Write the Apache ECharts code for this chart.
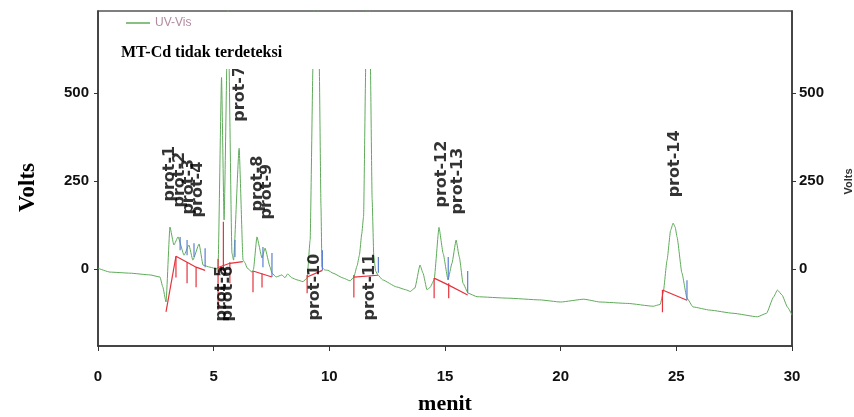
<!DOCTYPE html>
<html><head><meta charset="utf-8">
<script src="https://cdn.jsdelivr.net/npm/echarts@6/dist/echarts.min.js"></script>
<style>html,body{margin:0;padding:0;background:#fff}#c{width:854px;height:417px}</style>
</head><body><div id="c"></div>
<script>
// UV-Vis trace (minutes, volts)
const time = [0,0.52,1.38,2.25,2.68,2.8,2.94,3.11,3.28,3.46,3.72,3.93,4.1,4.37,4.54,4.84,5.14,5.19,5.34,5.45,5.62,5.79,5.86,6.1,6.27,6.36,6.44,6.66,6.72,6.87,7.09,7.22,7.44,7.52,7.7,7.95,8.08,8.2,8.37,8.6,8.86,9.04,9.17,9.3,9.42,9.56,9.64,9.68,9.8,9.94,10.16,10.6,10.9,11.06,11.2,11.3,11.4,11.48,11.58,11.67,11.77,11.85,11.92,12.0,12.1,12.3,12.9,13.3,13.5,13.7,13.92,14.05,14.22,14.35,14.53,14.74,14.92,15.13,15.3,15.48,15.62,15.78,16.0,16.39,17.7,19.1,20.0,21.0,21.7,22.9,24.0,24.3,24.43,24.6,24.75,24.86,24.95,25.03,25.24,25.46,25.72,26.45,27.45,28.5,28.9,29.2,29.37,29.57,29.8,30.0];
const volts = [3,-8,-11,-16,-22,-50,-93,120,69,92,40,69,26,72,12,6,1,7,545,140,760,46,26,344,26,18,4,-8,0,92,32,60,6,-11,-22,-16,-24,-13,-24,-30,-35,-25,83,600,1100,600,176,6,-2,-3,-11,-25,-33,-22,10,40,100,150,600,1100,600,200,40,-5,-16,-30,-50,-58,-63,-53,12,-11,-58,-52,-30,119,45,-30,17,83,35,-40,-68,-78,-82,-87,-93,-85,-93,-97,-105,-100,-68,26,110,131,120,92,-10,-82,-107,-116,-125,-135,-125,-79,-59,-73,-107,-130];

const yTicks = [0, 250, 500];
const xTicks = [0, 5, 10, 15, 20, 25, 30];

// peak labels: name, time and volts at the text's start
const peakNames = ['prot-1','prot-2','prot-3','prot-4','prot-5','prot-6','prot-7','prot-8','prot-9','prot-10','prot-11','prot-12','prot-13','prot-14'];
const peakLabelTime = [3.11,3.55,3.93,4.32,5.36,5.62,6.14,6.92,7.31,9.38,11.76,14.87,15.56,24.95];
const peakLabelVolts = [191,174,154,146,-150,-150,418,163,140,-147,-147,174,154,203];

// integration baselines (red)
const baselineSegments = [
  [[2.94,-121],[3.37,37]],
  [[3.37,37],[3.85,20],[4.24,6],[4.63,-3]],
  [[5.19,5],[5.7,17],[6.26,22]],
  [[6.7,-5],[7.52,-22]],
  [[9.04,-22],[9.7,-3]],
  [[11.06,-22],[12.1,-17]],
  [[14.53,-25],[15.16,-45],[15.98,-73]],
  [[24.4,-59],[25.46,-88]]
];
// peak start marks (red)
const startMarks = [
  [[3.37,37],[3.37,-23]], [[3.85,20],[3.85,-40]], [[4.24,6],[4.24,-51]],
  [[5.19,30],[5.19,-115]], [[5.42,135],[5.42,-5]], [[5.7,20],[5.7,-40]],
  [[6.7,-5],[6.7,-65]], [[7.09,-12],[7.09,-52]],
  [[9.04,-16],[9.04,-68]], [[11.06,-16],[11.06,-80]],
  [[14.53,-25],[14.53,-82]], [[15.16,-40],[15.16,-82]],
  [[24.4,-59],[24.4,-122]]
];
// peak end marks (blue)
const endMarks = [
  [[3.55,92],[3.55,54]], [[3.85,83],[3.85,40]], [[4.15,74],[4.15,35]], [[4.63,60],[4.63,6]],
  [[5.92,83],[5.92,35]], [[7.13,63],[7.13,6]], [[7.52,46],[7.52,-22]],
  [[9.7,54],[9.7,-3]], [[12.12,35],[12.12,-10]], [[15.14,35],[15.14,-30]],
  [[15.98,-5],[15.98,-68]], [[25.46,-31],[25.46,-88]]
];

const numFont = '"Liberation Sans Narrow","Arial Narrow","Liberation Sans",sans-serif';
const serif = '"Liberation Serif","Times New Roman",serif';

const chart = echarts.init(document.getElementById('c'));
chart.setOption({
  animation: false,
  grid: { left: 98, right: 62, top: 11, bottom: 71, show: true, borderColor: '#555', borderWidth: 1.5,
    outerBoundsMode: 'none', containLabel: false },
  title: { text: 'MT-Cd tidak terdeteksi', left: 116, top: 40, z: 8,
    textStyle: { fontFamily: serif, fontWeight: 'bold', fontSize: 16, color: '#000' } },
  legend: { data: [{ name: 'UV-Vis', icon: 'rect' }], left: 121, top: 12, z: 8,
    itemWidth: 24, itemHeight: 1.5, itemGap: 6,
    textStyle: { color: '#b08aa0', fontFamily: numFont, fontSize: 12 } },
  graphic: { z: 5, elements: [ { type: 'rect', z: 5, shape: { x: 99, y: 12, width: 691, height: 57 }, style: { fill: '#fff' } } ] },
  xAxis: {
    type: 'value', min: 0, max: 30, interval: 5,
    axisLine: { show: true, onZero: false, lineStyle: { color: '#333', width: 1.5 } },
    axisTick: { show: true, length: 5, lineStyle: { color: '#333' } },
    axisLabel: { margin: 23, fontFamily: numFont, fontWeight: 'bold', fontSize: 15, color: '#111',
      customValues: xTicks },
    splitLine: { show: false },
    name: 'menit', nameLocation: 'middle', nameGap: 47,
    nameTextStyle: { fontFamily: serif, fontWeight: 'bold', fontSize: 22, color: '#000' }
  },
  yAxis: [
    { type: 'value', min: -218, max: 734, position: 'left',
      axisLine: { show: true, onZero: false, lineStyle: { color: '#333', width: 1.5 } },
      axisTick: { show: true, length: 4, customValues: yTicks, lineStyle: { color: '#333' } },
      axisLabel: { customValues: yTicks, margin: 9, fontFamily: numFont, fontWeight: 'bold', fontSize: 15, color: '#111' },
      splitLine: { show: false },
      name: 'Volts', nameLocation: 'middle', nameRotate: 90, nameGap: 58,
      nameTextStyle: { fontFamily: serif, fontWeight: 'bold', fontSize: 23, color: '#000', padding: [0, 18, 0, 0] }
    },
    { type: 'value', min: -218, max: 734, position: 'right',
      axisLine: { show: true, onZero: false, lineStyle: { color: '#333', width: 1.5 } },
      axisTick: { show: true, length: 4, customValues: yTicks, lineStyle: { color: '#333' } },
      axisLabel: { customValues: yTicks, margin: 7, fontFamily: numFont, fontWeight: 'bold', fontSize: 15, color: '#111' },
      splitLine: { show: false },
      name: 'Volts', nameLocation: 'middle', nameRotate: 90, nameGap: 51,
      nameTextStyle: { fontFamily: 'Liberation Sans, sans-serif', fontWeight: 'bold', fontSize: 11, color: '#333', padding: [0, 6, 0, 0] }
    }
  ],
  series: [
    { name: 'UV-Vis', type: 'line', symbol: 'none', smooth: 0.15, smoothMonotone: 'x',
      data: time.map((t, i) => [t, volts[i]]),
      lineStyle: { color: '#5fab5a', width: 1 }, itemStyle: { color: '#5fab5a' }, z: 2 },
    { type: 'lines', coordinateSystem: 'cartesian2d', polyline: true, z: 3,
      data: baselineSegments.concat(startMarks).map(c => ({ coords: c })),
      lineStyle: { color: '#e5323c', width: 1.2, opacity: 1 } },
    { type: 'lines', coordinateSystem: 'cartesian2d', polyline: true, z: 3,
      data: endMarks.map(c => ({ coords: c })),
      lineStyle: { color: '#5b7fd4', width: 1.2, opacity: 1 } },
    { type: 'scatter', symbolSize: 1, itemStyle: { color: 'rgba(0,0,0,0)' }, z: 4,
      data: peakNames.map((n, i) => [peakLabelTime[i], peakLabelVolts[i], n]),
      label: { show: true, position: [0, 0], rotate: 90, align: 'left', verticalAlign: 'middle',
        formatter: p => p.data[2], fontFamily: '"DejaVu Sans",sans-serif', fontWeight: 'bold', fontSize: 16,
        color: '#000', textBorderWidth: 0 } }
  ]
});
</script>
</body></html>
